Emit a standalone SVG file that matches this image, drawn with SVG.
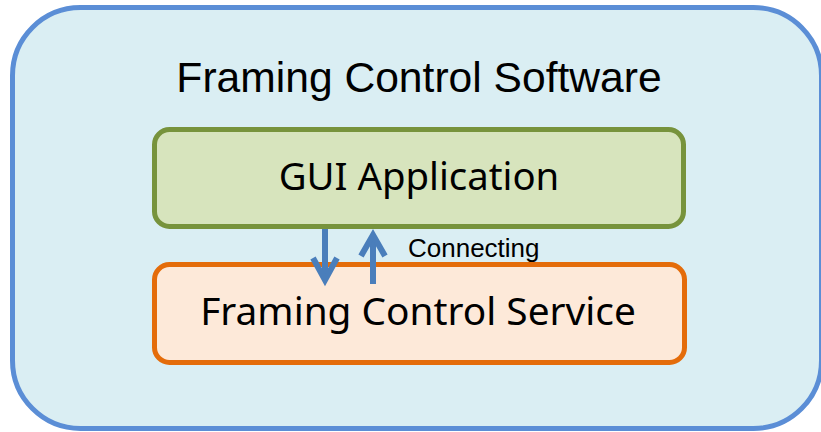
<svg xmlns="http://www.w3.org/2000/svg" width="821" height="432" viewBox="0 0 821 432">
<defs>
<style>
.arrow{fill:none;stroke:#4A7EBB;stroke-width:6;stroke-linecap:butt;stroke-linejoin:miter}
.sans{font-family:"Liberation Sans",Arial,sans-serif;fill:#000}
.jp{font-family:"Noto Sans","Noto Sans CJK JP",sans-serif;fill:#000}
</style>
</defs>
<rect width="821" height="432" fill="#ffffff"/>
<g id="software">
<rect x="12.5" y="7.5" width="809" height="421" rx="68" ry="68" fill="#DAEEF3" stroke="#5B8ED6" stroke-width="5"/>
<text class="sans" x="419" y="92" font-size="42.6" text-anchor="middle">Framing Control Software</text>
</g>
<g id="gui">
<rect x="154.5" y="129.5" width="529" height="97" rx="15" ry="15" fill="#D7E4BD" stroke="#77933C" stroke-width="5"/>
<text class="jp" x="419" y="190" font-size="38.3" text-anchor="middle">GUI Application</text>
</g>
<g id="service">
<rect x="154.5" y="264.5" width="530" height="98" rx="15" ry="15" fill="#FDE9D9" stroke="#E46C0A" stroke-width="5"/>
<text class="jp" x="418" y="325" font-size="38.8" text-anchor="middle">Framing Control Service</text>
</g>
<g id="connectors">
<line class="arrow" x1="325" y1="229" x2="325" y2="280"/>
<polyline class="arrow" points="313,258 325,280 337,258"/>
<line class="arrow" x1="373" y1="284" x2="373" y2="235"/>
<polyline class="arrow" points="361,256 373,235 385,256"/>
<text class="sans" x="408" y="256.5" font-size="26">Connecting</text>
</g>
</svg>
